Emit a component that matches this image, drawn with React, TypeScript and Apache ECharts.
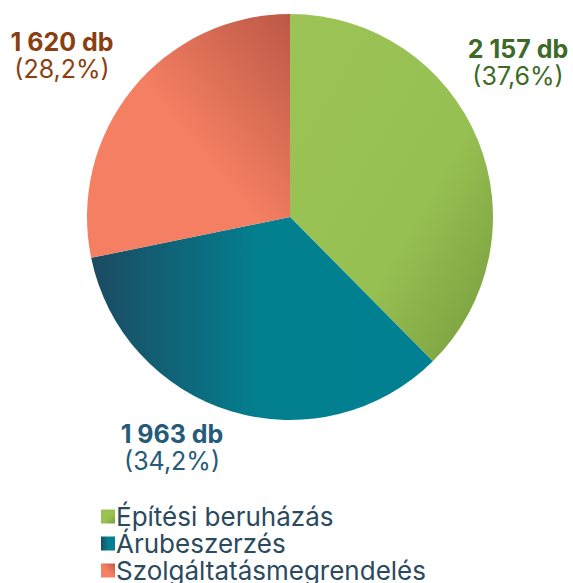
import React, { useEffect, useRef } from "react";
import * as echarts from "echarts";

const categories = ["Építési beruházás", "Árubeszerzés", "Szolgáltatásmegrendelés"];
const values = [2157, 1963, 1620];
const labelColors = ["#3d6a27", "#255a78", "#8a3f12"];

const fmtNum = (n: number) => String(n).replace(/\B(?=(\d{3})+(?!\d))/g, " ");

export default function App() {
  const ref = useRef<HTMLDivElement>(null);
  useEffect(() => {
    document.body.style.margin = "0";
    const chart = echarts.init(ref.current!, null, { renderer: "svg" });
    const total = values.reduce((a, b) => a + b, 0);
    const fills = [
      new echarts.graphic.LinearGradient(0, 0, 1, 1, [
        { offset: 0, color: "#9bc355" },
        { offset: 0.6, color: "#97c052" },
        { offset: 1, color: "#779b3c" },
      ]),
      new echarts.graphic.LinearGradient(0, 0, 1, 0, [
        { offset: 0, color: "#1c4a62" },
        { offset: 0.5, color: "#02808f" },
        { offset: 1, color: "#008092" },
      ]),
      new echarts.graphic.LinearGradient(1, 0, 0, 1, [
        { offset: 0, color: "#bb5846" },
        { offset: 0.5, color: "#f47f62" },
        { offset: 1, color: "#f47f62" },
      ]),
    ];
    const labelPos = [
      [518, 62],
      [172, 447],
      [62, 55],
    ];
    chart.setOption({
      animation: false,
      legend: {
        orient: "vertical",
        left: 96,
        top: 498,
        height: 100,
        icon: "rect",
        itemWidth: 14,
        itemHeight: 14,
        itemGap: 0,
        selectedMode: false,
        textStyle: {
          fontFamily: "Inter",
          fontSize: 26,
          lineHeight: 27,
          color: "#2b4a5e",
          padding: [0, 0, 0, -4],
        },
        data: categories,
      },
      series: [
        {
          type: "pie",
          center: [290, 217],
          radius: 203,
          startAngle: 90,
          clockwise: true,
          silent: true,
          labelLine: { show: false },
          label: {
            show: true,
            position: "outside",
            overflow: "none",
            alignTo: "none",
            fontFamily: "Inter",
            formatter: (p: any) =>
              `{a|${fmtNum(p.value)} db}\n{b|(${((p.value / total) * 100).toFixed(1).replace(".", ",")}%)}`,
          },
          labelLayout: (params: any) => ({
            x: labelPos[params.dataIndex][0],
            y: labelPos[params.dataIndex][1],
            align: "center",
            verticalAlign: "middle",
          }),
          data: categories.map((name, i) => ({
            name,
            value: values[i],
            itemStyle: { color: fills[i] },
            label: {
              rich: {
                a: { fontFamily: "Inter", fontSize: 25, fontWeight: "bold", color: labelColors[i], lineHeight: 27 },
                b: { fontFamily: "Inter", fontSize: 25, color: labelColors[i], lineHeight: 26 },
              },
            },
          })),
        },
      ],
    });
    return () => chart.dispose();
  }, []);
  return <div ref={ref} style={{ width: 573, height: 583 }} />;
}
